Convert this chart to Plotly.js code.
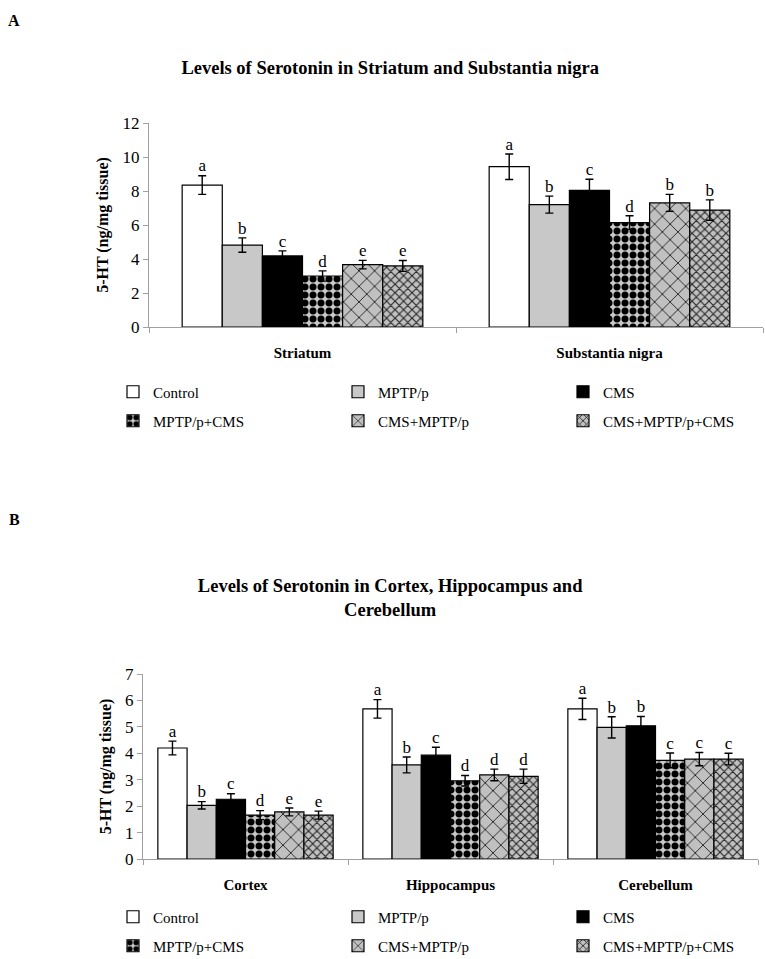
<!DOCTYPE html>
<html>
<head>
<meta charset="utf-8">
<script src="https://cdn.plot.ly/plotly-3.0.1.min.js"></script>
<style>
  html, body { margin: 0; padding: 0; background: #fff; }
  #chartA { position: absolute; left: 0; top: 0; width: 765px; height: 480px; }
  #chartB { position: absolute; left: 0; top: 480px; width: 765px; height: 479px; }
</style>
</head>
<body>
<div id="chartA"></div>
<div id="chartB"></div>
<script>
// ---------- DATA ----------
var seriesNames = ["Control", "MPTP/p", "CMS", "MPTP/p+CMS", "CMS+MPTP/p", "CMS+MPTP/p+CMS"];

// Panel A
var regionsA = ["Striatum", "Substantia nigra"];
var controlA = [8.35, 9.43];
var mptpA = [4.82, 7.20];
var cmsA = [4.18, 8.04];
var mptpCmsA = [3.00, 6.14];
var cmsMptpA = [3.67, 7.30];
var cmsMptpCmsA = [3.59, 6.88];
var controlErrA = [0.55, 0.75];
var mptpErrA = [0.42, 0.50];
var cmsErrA = [0.30, 0.65];
var mptpCmsErrA = [0.30, 0.40];
var cmsMptpErrA = [0.25, 0.50];
var cmsMptpCmsErrA = [0.32, 0.60];
var lettersA = [["a", "a"], ["b", "b"], ["c", "c"], ["d", "d"], ["e", "b"], ["e", "b"]];

// Panel B
var regionsB = ["Cortex", "Hippocampus", "Cerebellum"];
var controlB = [4.20, 5.68, 5.68];
var mptpB = [2.03, 3.56, 4.98];
var cmsB = [2.26, 3.93, 5.04];
var mptpCmsB = [1.66, 2.96, 3.73];
var cmsMptpB = [1.78, 3.18, 3.78];
var cmsMptpCmsB = [1.66, 3.13, 3.78];
var controlErrB = [0.26, 0.35, 0.40];
var mptpErrB = [0.14, 0.30, 0.40];
var cmsErrB = [0.21, 0.30, 0.35];
var mptpCmsErrB = [0.17, 0.20, 0.28];
var cmsMptpErrB = [0.15, 0.22, 0.25];
var cmsMptpCmsErrB = [0.15, 0.27, 0.22];
var lettersB = [["a", "a", "a"], ["b", "b", "b"], ["c", "c", "b"], ["d", "d", "c"], ["e", "d", "c"], ["e", "d", "c"]];

// ---------- STYLES ----------
var FONT = "Liberation Serif, Times New Roman, serif";
var styles = [
  {color: "#ffffff"},
  {color: "#c8c8c8"},
  {color: "#000000"},
  {color: "#c8c8c8", pattern: {shape: ".", fgcolor: "#000000", bgcolor: "#c8c8c8", size: 8, solidity: 0.6}},
  {color: "#c0c0c0", pattern: {shape: "x", fgcolor: "#222222", bgcolor: "#c0c0c0", size: 11, solidity: 0.16}},
  {color: "#c0c0c0", pattern: {shape: "x", fgcolor: "#222222", bgcolor: "#c0c0c0", size: 6, solidity: 0.32}}
];
var legendColsPx = [113, 338, 563];   // legend box left edges (px)

function buildTraces(cats, vals, errs, letters) {
  var traces = [];
  for (var i = 0; i < vals.length; i++) {
    var m = {color: styles[i].color, line: {color: "#000000", width: 1.2}};
    if (styles[i].pattern) m.pattern = styles[i].pattern;
    traces.push({
      type: "bar", name: seriesNames[i], x: cats, y: vals[i], marker: m,
      legend: i === 0 ? "legend" : "legend" + (i + 1),
      error_y: {type: "data", array: errs[i], visible: true, color: "#000000", thickness: 1.4, width: 4},
      hoverinfo: "skip"
    });
  }
  for (var j = 0; j < vals.length; j++) {
    var ys = vals[j].map(function (v, k) { return v + errs[j][k]; });
    traces.push({
      type: "scatter", mode: "text", x: cats, y: ys, text: letters[j],
      textposition: "top center", textfont: {family: FONT, size: 17, color: "#000"},
      showlegend: false, cliponaxis: false, hoverinfo: "skip"
    });
  }
  return traces;
}

function baseLayout(h, marg, yrange, cats, bargap, titleText, titleY, legRowsPx, panelLabel, labelY) {
  var L = {
    width: 765, height: h,
    paper_bgcolor: "#ffffff", plot_bgcolor: "#ffffff",
    margin: marg,
    font: {family: FONT, color: "#000"},
    barmode: "group", bargap: bargap, bargroupgap: 0,
    scattermode: "group", scattergap: bargap,
    title: {text: titleText, font: {family: FONT, size: 18.5, weight: "bold", color: "#000"},
            x: 0.51, xref: "container", xanchor: "center", y: titleY, yref: "container", yanchor: "middle"},
    xaxis: {
      type: "category", categoryorder: "array", categoryarray: cats,
      showline: true, linecolor: "#a0a0a0", linewidth: 1,
      ticks: "outside", tickson: "boundaries", ticklen: 5, tickcolor: "#a0a0a0",
      tickfont: {family: FONT, size: 15, weight: "bold", color: "#000"},
      ticklabelstandoff: 12, showgrid: false, zeroline: false, fixedrange: true
    },
    yaxis: {
      range: yrange, dtick: yrange[1] > 8 ? 2 : 1, tick0: 0,
      showline: true, linecolor: "#a0a0a0", linewidth: 1,
      ticks: "outside", ticklen: 5, tickcolor: "#a0a0a0",
      tickfont: {family: FONT, size: 17, color: "#000"},
      showgrid: false, zeroline: false, fixedrange: true,
      title: {text: "5-HT (ng/mg tissue)", font: {family: FONT, size: 16, weight: "bold", color: "#000"}, standoff: 9}
    },
    annotations: [{text: "<b>" + panelLabel + "</b>", xref: "paper", yref: "paper",
                   x: (14 - marg.l) / (765 - marg.l - marg.r), y: 1 - (labelY - marg.t) / (h - marg.t - marg.b),
                   xanchor: "center", yanchor: "middle", showarrow: false, font: {family: FONT, size: 16, color: "#000"}}]
  };
  for (var i = 0; i < 6; i++) {
    var key = i === 0 ? "legend" : "legend" + (i + 1);
    L[key] = {orientation: "h", xref: "container", yref: "container",
              x: legendColsPx[i % 3] / 765, y: 1 - legRowsPx[Math.floor(i / 3)] / h,
              xanchor: "left", yanchor: "middle",
              font: {family: FONT, size: 15, color: "#000"}, itemwidth: 30, bgcolor: "rgba(0,0,0,0)"};
  }
  return L;
}

var tracesA = buildTraces(regionsA,
  [controlA, mptpA, cmsA, mptpCmsA, cmsMptpA, cmsMptpCmsA],
  [controlErrA, mptpErrA, cmsErrA, mptpCmsErrA, cmsMptpErrA, cmsMptpCmsErrA], lettersA);
var layoutA = baseLayout(480, {l: 149, r: 2, t: 122.7, b: 153.3}, [0, 12], regionsA, 0.216,
  "Levels of Serotonin in Striatum and Substantia nigra", 1 - 68 / 480, [392, 421], "A", 20);

var tracesB = buildTraces(regionsB,
  [controlB, mptpB, cmsB, mptpCmsB, cmsMptpB, cmsMptpCmsB],
  [controlErrB, mptpErrB, cmsErrB, mptpCmsErrB, cmsMptpErrB, cmsMptpCmsErrB], lettersB);
var layoutB = baseLayout(479, {l: 143, r: 7, t: 194.3, b: 99.7}, [0, 7], regionsB, 0.145,
  "Levels of Serotonin in Cortex, Hippocampus and<br>Cerebellum", 1 - 112 / 479, [437, 466], "B", 40);

Plotly.newPlot("chartA", tracesA, layoutA, {staticPlot: true});
Plotly.newPlot("chartB", tracesB, layoutB, {staticPlot: true});
</script>
</body>
</html>
